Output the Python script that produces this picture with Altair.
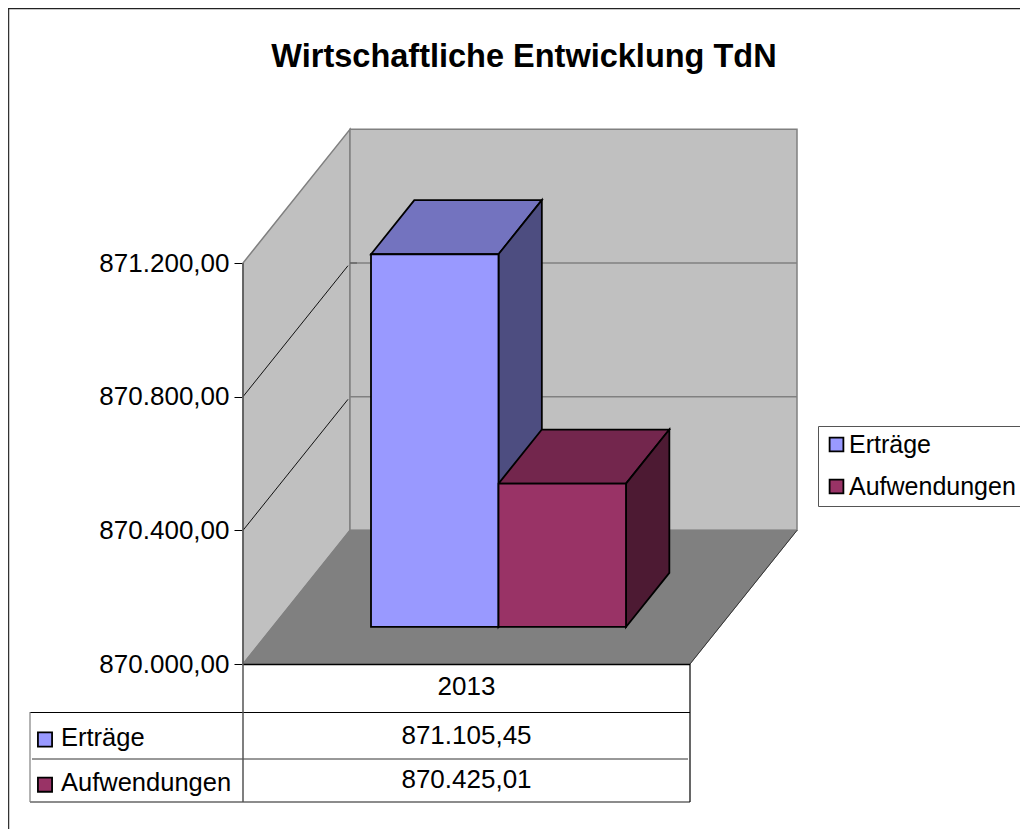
import altair as alt
import pandas as pd

TITLE = "Wirtschaftliche Entwicklung TdN"
SERIES = ["Erträge", "Aufwendungen"]
VALUES = [871105.45, 870425.01]
CATEGORY = "2013"
TICKS = [870000, 870400, 870800, 871200]
FRONT = ["#9999FF", "#993366"]
TOP = ["#7373BF", "#73264D"]
SIDE = ["#4D4D80", "#4D1A33"]
FONT = "Liberation Sans"
FS_NUM = 26
FS_WORD = 25.5

W, H = 1012, 821
BASE = 870000
K = 401 / 1200            # pixels per value unit
DEPTH_UNITS = 400         # a full floor depth equals this many value units on screen
DX = 107                  # ... and this many pixels horizontally
AX = 243                  # x of front axis
FLOOR_W = 447
BAR_K = 1.009             # slight enlargement of the bar plane
BAR_D0 = 0.277
BAR_D = 0.405
BAR_X = 371
BAR_W = 127.5

label_expr = "replace(replace(replace(format(datum.value, ',.2f'), ',', '#'), '.', ','), '#', '.')"
AXIS = alt.Axis(
    title=None, values=TICKS, offset=-(AX - 9), labelExpr=label_expr, domain=False, grid=False,
    tickSize=8, tickColor="#000000", tickWidth=1, labelPadding=5,
    labelFont=FONT, labelFontSize=FS_NUM, labelColor="#000000",
    labelOverlap=False, labelBound=False, labelFlush=False)

xs = alt.Scale(domain=[8, 8 + W], range=[0, W])
ys = alt.Scale(domain=[BASE + (664 - 8) / K, BASE - (8 + H - 664) / K], range=[0, H], zero=False, nice=False)
X = lambda f: alt.X(f, type="quantitative", scale=xs, axis=None)
Y = lambda f: alt.Y(f, type="quantitative", scale=ys, axis=AXIS)


def de(v):
    return f"{v:,.2f}".replace(",", "#").replace(".", ",").replace("#", ".")


def px(x, v, d=0.0):
    return x + DX * d, v + DEPTH_UNITS * d


def poly_h(rows, fill, stroke, sw):
    """faces whose top and bottom edges are horizontal"""
    return alt.Chart(pd.DataFrame(rows, columns=["a", "b", "y"])).mark_area(
        orient="horizontal", fill=fill, stroke=stroke, strokeWidth=sw, opacity=1
    ).encode(x=X("a"), x2="b", y=Y("y"))


def poly_v(rows, fill, stroke, sw):
    """faces whose left and right edges are vertical"""
    return alt.Chart(pd.DataFrame(rows, columns=["x", "a", "b"])).mark_area(
        orient="vertical", fill=fill, stroke=stroke, strokeWidth=sw, opacity=1
    ).encode(x=X("x"), y=Y("a"), y2="b")


def seg(x0, v0, x1, v1, color, sw):
    df = pd.DataFrame({"x": [x0, x1], "y": [v0, v1]})
    return alt.Chart(df).mark_line(color=color, strokeWidth=sw).encode(x=X("x"), y=Y("y"))


TOPV = TICKS[-1]
layers = []

# Walls and floor
back_x0, _ = px(AX, BASE, 1)
layers.append(poly_v([[AX, BASE, TOPV], [back_x0, BASE + DEPTH_UNITS, TOPV + DEPTH_UNITS]], "#C0C0C0", "#808080", 1.5))
layers.append(poly_v([[back_x0, BASE + DEPTH_UNITS, TOPV + DEPTH_UNITS],
                      [back_x0 + FLOOR_W, BASE + DEPTH_UNITS, TOPV + DEPTH_UNITS]], "#C0C0C0", "#808080", 1.5))
layers.append(poly_h([[AX, AX + FLOOR_W, BASE], [back_x0, back_x0 + FLOOR_W, BASE + DEPTH_UNITS]], "#808080", "#808080", 1))
layers.append(seg(AX + FLOOR_W, BASE, back_x0 + FLOOR_W, BASE + DEPTH_UNITS, "#333333", 1))

# Gridlines
for t in TICKS[1:-1]:
    layers.append(seg(back_x0, t + DEPTH_UNITS, back_x0 + FLOOR_W, t + DEPTH_UNITS, "#808080", 1.5))
    layers.append(seg(AX, t, back_x0 - 2, t + DEPTH_UNITS - 8, "#111111", 1))
layers.append(seg(back_x0, TICKS[-1], back_x0 + 7, TICKS[-1], "#555555", 1))

# 3D bar sides and tops
floor_v = BASE + DEPTH_UNITS * BAR_D0
for i, (s, v) in enumerate(zip(SERIES, VALUES)):
    x0 = BAR_X + i * BAR_W
    x1 = x0 + BAR_W
    top = floor_v + (v - BASE) * BAR_K
    dx = DX * BAR_D
    dv = DEPTH_UNITS * BAR_D
    layers.append(poly_h([[x0, x1, top], [x0 + dx, x1 + dx, top + dv]], TOP[i], "#000000", 1.8))
    layers.append(poly_v([[x1, floor_v, top], [x1 + dx, floor_v + dv, top + dv]], SIDE[i], "#000000", 1.8))

# Bar fronts (real rects, these give the legend)
bars = pd.DataFrame({
    "series": SERIES,
    "x0": [BAR_X + i * BAR_W for i in range(2)],
    "x1": [BAR_X + (i + 1) * BAR_W for i in range(2)],
    "top": [floor_v + (v - BASE) * BAR_K for v in VALUES],
    "base": [floor_v] * 2,
})
layers.append(
    alt.Chart(bars).mark_rect(stroke="#000000", strokeWidth=1.8, opacity=1).encode(
        x=X("x0"), x2="x1", y=Y("top"), y2="base",
        fill=alt.Fill("series:N", scale=alt.Scale(domain=SERIES, range=FRONT), legend=alt.Legend(
            title=None, orient="none", legendX=810, legendY=418, symbolType="square",
            symbolSize=190, symbolStrokeColor="#000000", symbolStrokeWidth=1.8, symbolOpacity=1,
            labelFont=FONT, labelFontSize=25, labelColor="#000000", labelLimit=400,
            fillColor="#FFFFFF", strokeColor="#555555", padding=6,
            rowPadding=16, labelOffset=0)),
    )
)


# Data table and frame (furniture in pixels relative to the page)
def hline(x0, x1, y, color="#000000", sw=1.0):
    return alt.Chart(pd.DataFrame({"k": [0]})).mark_rule(color=color, strokeWidth=sw).encode(
        x=alt.value(x0 - 8), x2=alt.value(x1 - 8), y=alt.value(y - 8))


def vline(x, y0, y1, color="#000000", sw=1.0):
    return alt.Chart(pd.DataFrame({"k": [0]})).mark_rule(color=color, strokeWidth=sw).encode(
        x=alt.value(x - 8), y=alt.value(y0 - 8), y2=alt.value(y1 - 8))


layers += [
    hline(243, 690, 664.5, "#000000", 1.4),
    hline(30, 690, 712.5, "#000000", 1.2),
    hline(32, 688, 759, "#333333", 1),
    hline(30, 690, 802, "#666666", 1.6),
    vline(30, 712, 802, "#808080", 1.2),
    vline(243, 263, 802, "#555555", 1.5),
    vline(690, 664, 802, "#000000", 1.2),
    vline(8.5, 8, 829, "#333333", 1.5),
    hline(8, 1020, 8.5, "#222222", 1.5),
]


def text(label, x, y, align, size):
    return alt.Chart(pd.DataFrame({"t": [label]})).mark_text(
        font=FONT, fontSize=size, color="#000000", align=align, baseline="alphabetic"
    ).encode(text="t:N", x=alt.value(x - 8), y=alt.value(y - 8))


layers.append(text(CATEGORY, 466.5, 695, "center", FS_NUM))
for i, (s, v, yv, yl, ysq) in enumerate(zip(SERIES, VALUES, [744, 788], [746, 791], [739.5, 784.7])):
    layers.append(text(de(v), 466.5, yv, "center", FS_NUM))
    layers.append(text(s, 61, yl, "left", FS_WORD))
    layers.append(
        alt.Chart(pd.DataFrame({"k": [0]})).mark_square(
            size=200, fill=FRONT[i], stroke="#000000", strokeWidth=1.8, opacity=1
        ).encode(x=alt.value(45 - 8), y=alt.value(ysq - 8))
    )

chart = alt.layer(*layers).properties(
    width=W, height=H, padding=0,
    autosize=alt.AutoSizeParams(type="none"),
    background="#FFFFFF",
    title=alt.TitleParams(TITLE, font=FONT, fontSize=32.5, fontWeight="bold", color="#000000",
                          anchor="middle", dx=10, offset=-92, baseline="alphabetic"),
).configure_view(stroke=None)

chart.save("out.html", embed_options={"renderer": "svg", "actions": False})
